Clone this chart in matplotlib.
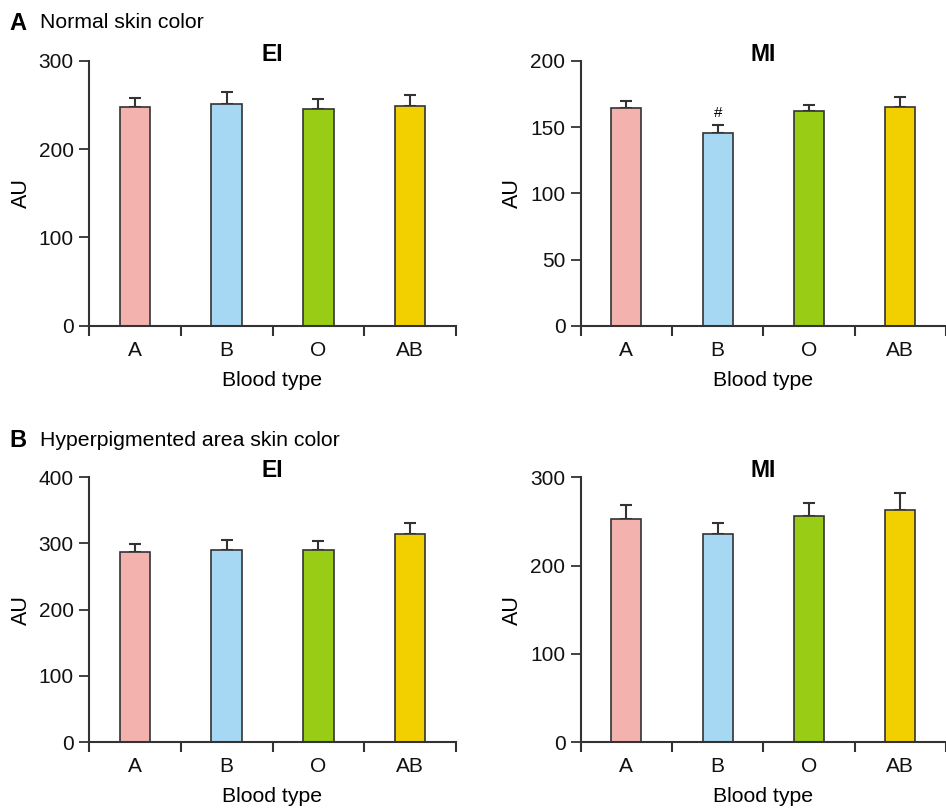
import matplotlib
matplotlib.use("Agg")
import matplotlib.pyplot as plt
import numpy as np

plt.rcParams['font.family'] = ['Liberation Sans', 'DejaVu Sans']

categories = ["A", "B", "O", "AB"]
colors = ["#F4B2AE", "#A6D8F4", "#99CC14", "#F2D000"]

normal_ei = [247.5, 251.5, 246, 249]
normal_ei_err = [10, 13, 11, 12]
normal_mi = [164.5, 145.5, 162, 165.5]
normal_mi_err = [5, 6, 5, 7]
hyper_ei = [287.5, 290, 290, 315]
hyper_ei_err = [12, 15, 13, 16]
hyper_mi = [253, 236, 256, 263]
hyper_mi_err = [15.5, 12, 15, 19]

W, H = 946, 809
fig = plt.figure(figsize=(W / 100, H / 100), dpi=100)

edge = "#333333"

def make_ax(left_px, right_px, top_px, bottom_px):
    return fig.add_axes([left_px / W, 1 - bottom_px / H,
                         (right_px - left_px) / W, (bottom_px - top_px) / H])

def draw(ax, vals, errs, ymax, step, title, mark=None):
    x = np.arange(len(categories))
    ax.bar(x, vals, width=0.33, color=colors, edgecolor=edge, linewidth=1.2, zorder=2)
    ax.errorbar(x, vals, yerr=[np.zeros(len(vals)), errs], fmt='none',
                ecolor=edge, elinewidth=1.5, capsize=4.5, capthick=1.5, zorder=1)
    ax.set_xlim(-0.5, 3.5)
    ax.set_ylim(0, ymax)
    ax.set_yticks(np.arange(0, ymax + 1, step))
    ax.set_xticks(x)
    ax.set_xticklabels(categories)
    ax.set_xticks([-0.5, 0.5, 1.5, 2.5, 3.5], minor=True)
    ax.tick_params(axis='x', which='major', length=0, labelsize=15, pad=11, colors='#111111')
    ax.tick_params(axis='x', which='minor', length=7, width=1.5, color=edge, direction='out')
    ax.tick_params(axis='y', length=7, width=1.3, color=edge, labelsize=15, pad=4, labelcolor='#111111')
    for s in ['top', 'right']:
        ax.spines[s].set_visible(False)
    for s in ['left', 'bottom']:
        ax.spines[s].set_color(edge)
        ax.spines[s].set_linewidth(1.5)
    ax.set_xlabel("Blood type", fontsize=15.3, labelpad=8)
    ax.set_ylabel("AU", fontsize=15.5, labelpad=5)
    ax.text(0.5, 1.0, title, transform=ax.transAxes, ha='center', va='baseline',
            fontsize=16.5, fontweight='bold')
    if mark is not None:
        i, txt = mark
        ax.text(i, vals[i] + errs[i] + 4, txt, ha='center', va='bottom', fontsize=11)
    for sp in ax.spines.values():
        sp.set_clip_on(False)

ax1 = make_ax(89, 456, 61, 325.7)
draw(ax1, normal_ei, normal_ei_err, 300, 100, "EI")
ax2 = make_ax(580.7, 946, 61, 325.7)
draw(ax2, normal_mi, normal_mi_err, 200, 50, "MI", mark=(1, "#"))
ax3 = make_ax(89, 456, 477.3, 742)
draw(ax3, hyper_ei, hyper_ei_err, 400, 100, "EI")
ax4 = make_ax(580.7, 946, 477.3, 742)
draw(ax4, hyper_mi, hyper_mi_err, 300, 100, "MI")

fig.text(9 / W, 1 - 23 / H, "A", fontsize=17, fontweight='bold', va='center', ha='left')
fig.text(40 / W, 1 - 23 / H, "Normal skin color", fontsize=15.3, va='center', ha='left')
fig.text(9 / W, 1 - 440 / H, "B", fontsize=17, fontweight='bold', va='center', ha='left')
fig.text(40 / W, 1 - 440 / H, "Hyperpigmented area skin color", fontsize=15.3, va='center', ha='left')

fig.savefig("out.png", dpi=100)
